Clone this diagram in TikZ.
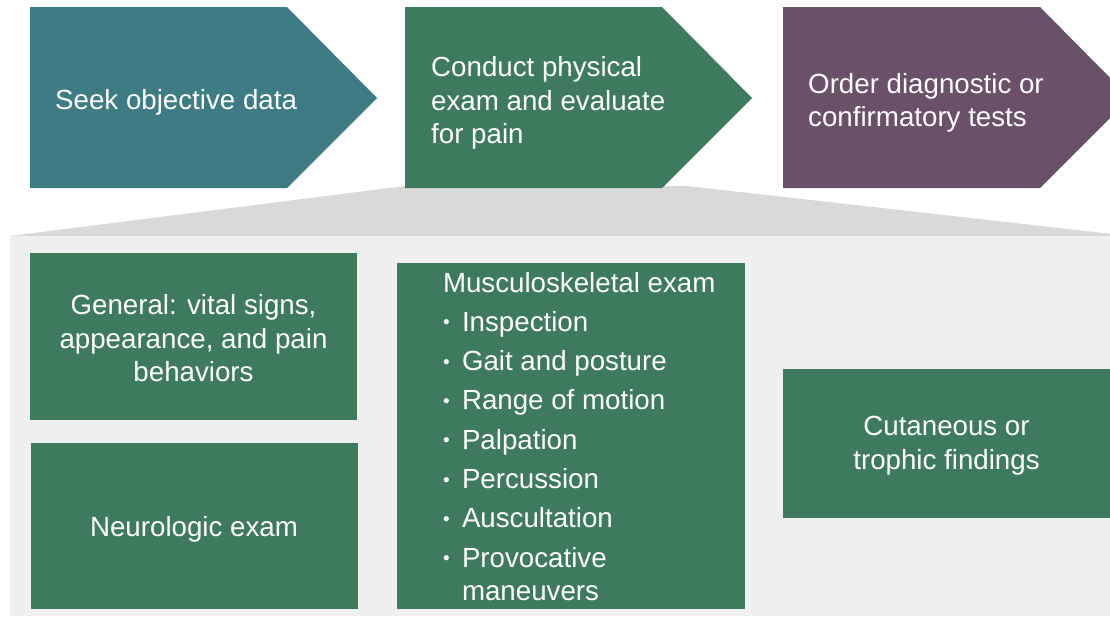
\documentclass[tikz,border=0pt]{standalone}
\usepackage{fontspec}
\setmainfont{Liberation Sans}
\usetikzlibrary{calc}
\definecolor{tealc}{HTML}{3D7C85}
\definecolor{greenc}{HTML}{3E7B5E}
\definecolor{plumc}{HTML}{6A5068}
\definecolor{fanc}{HTML}{D9D9D9}
\definecolor{panelc}{HTML}{EFEFEF}
\tikzset{ txt/.style = { text         = white
                       , inner sep    = 0pt
                       , font         = \fontsize{27.7}{33.5}\selectfont
                       },
          box/.style = { fill         = greenc
                       , inner sep    = 0pt
                       , minimum width  = 327pt
                       }
        }
\newcommand{\itm}{\makebox[19pt][l]{\raisebox{2.5pt}{\fontsize{19}{19}\selectfont\textbullet}}}

\begin{document}
\begin{tikzpicture}[x=1pt, y=-1pt]
    \useasboundingbox (0,0) rectangle (1110,616);
    \clip (0,0) rectangle (1110,616);
    % zoom fan and panel
    \fill[fanc] (10,236) -- (405,186) -- (687,186) -- (1130,236) -- cycle;
    \fill[panelc] (10,236) rectangle (1110,616);
    % steps
    \fill[tealc]  (30,7)  -- (287,7)  -- (377,98)  -- (287,188)  -- (30,188)  -- cycle;
    \fill[greenc] (405,7) -- (662,7)  -- (752,98)  -- (662,188)  -- (405,188) -- cycle;
    \fill[plumc]  (783,7) -- (1040,7) -- (1130,98) -- (1040,188) -- (783,188) -- cycle;
    \node[txt, anchor=west] (seek) at (55,102) {Seek objective data};
    \node[txt, anchor=west, align=left] (conduct) at (431,103)
        {Conduct physical\\exam and evaluate\\for pain};
    \node[txt, anchor=west, align=left] (order) at (808,103)
        {Order diagnostic or\\confirmatory tests};
    % findings
    \node[box, minimum height=167pt] (general) at (193.5,336.5) {};
    \node[txt, align=center] (generaltxt) at ([yshift=-2pt]general.center)
        {General: vital signs,\\appearance, and pain\\behaviors};
    \node[box, minimum height=166pt] (neuro) at (194,526) {};
    \node[txt] (neurotxt) at ([yshift=-3pt]neuro.center) {Neurologic exam};
    \node[box, minimum width=348pt, minimum height=346pt] (musc) at (571,436) {};
    \node[txt, anchor=north west, align=left] (musculo) at ([xshift=46pt, yshift=-9pt]musc.north west)
        {Musculoskeletal exam\\[5.8pt]
         \itm Inspection\\[5.8pt]
         \itm Gait and posture\\[5.8pt]
         \itm Range of motion\\[5.8pt]
         \itm Palpation\\[5.8pt]
         \itm Percussion\\[5.8pt]
         \itm Auscultation\\[5.8pt]
         \itm Provocative\\
         \hspace*{19pt}maneuvers};
    \node[box, minimum height=149pt] (cutaneous) at (946.5,443.5) {};
    \node[txt, align=center] (cutaneoustxt) at ([yshift=-2pt]cutaneous.center)
        {Cutaneous or\\trophic findings};
\end{tikzpicture}
\end{document}
